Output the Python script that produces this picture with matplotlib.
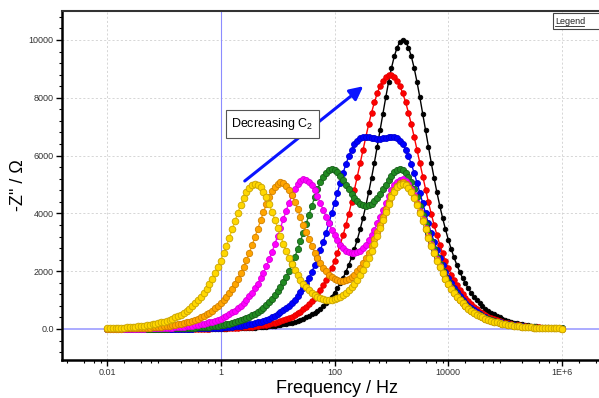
import numpy as np
import matplotlib
matplotlib.use("Agg")
import matplotlib.pyplot as plt
from matplotlib.ticker import FixedLocator, MultipleLocator, LogLocator, NullFormatter
from matplotlib.patches import Rectangle
from matplotlib.lines import Line2D

plt.rcParams['font.family'] = ['Liberation Sans', 'DejaVu Sans']
plt.rcParams['mathtext.fontset'] = 'custom'
plt.rcParams['mathtext.rm'] = 'Liberation Sans'
plt.rcParams['mathtext.it'] = 'Liberation Sans'

# frequency sweep: 0.01 Hz .. 1 MHz, 20 points per decade
freq = np.logspace(-2, 6, 161)

# -Z'' values (ohm), one list per C2 value
z_black = [0, 0, 0, 0, 0, 0, 0, 0, 0, 0,
           0, 0, 0, 0, 0, 0, 0, 0, 0, 2,
           2, 2, 2, 2, 2, 2, 2, 4, 4, 4,
           4, 4, 6, 6, 6, 8, 8, 8, 10, 12,
           12, 14, 16, 18, 20, 22, 26, 28, 32, 36,
           40, 44, 50, 56, 64, 70, 80, 90, 100, 112,
           126, 142, 158, 178, 200, 224, 252, 282, 316, 356,
           398, 448, 502, 564, 632, 708, 794, 892, 1000, 1122,
           1256, 1408, 1578, 1768, 1980, 2216, 2478, 2770, 3092, 3448,
           3838, 4264, 4726, 5222, 5750, 6302, 6872, 7448, 8012, 8544,
           9026, 9432, 9740, 9934, 10000, 9934, 9740, 9432, 9026, 8544,
           8012, 7448, 6872, 6302, 5750, 5222, 4726, 4264, 3838, 3448,
           3092, 2770, 2478, 2216, 1980, 1768, 1578, 1408, 1256, 1122,
           1000, 892, 794, 708, 632, 564, 502, 448, 398, 356,
           316, 282, 252, 224, 200, 178, 158, 142, 126, 112,
           100, 90, 80, 70, 64, 56, 50, 44, 40, 36,
           32]

z_red = [0, 0, 0, 0, 0, 0, 0, 0, 0, 0,
         1, 1, 1, 1, 1, 1, 1, 1, 2, 3,
         3, 3, 3, 4, 4, 4, 5, 6, 6, 7,
         8, 8, 10, 11, 12, 14, 15, 17, 19, 22,
         24, 27, 30, 34, 38, 43, 48, 54, 61, 68,
         76, 85, 96, 107, 121, 135, 152, 171, 191, 214,
         241, 270, 303, 340, 382, 428, 480, 538, 604, 678,
         760, 852, 955, 1071, 1200, 1344, 1505, 1685, 1885, 2107,
         2352, 2623, 2921, 3247, 3601, 3983, 4390, 4821, 5270, 5730,
         6191, 6645, 7079, 7481, 7842, 8151, 8403, 8594, 8722, 8785,
         8785, 8722, 8594, 8403, 8151, 7842, 7481, 7079, 6645, 6191,
         5730, 5270, 4821, 4390, 3983, 3601, 3247, 2921, 2623, 2352,
         2107, 1885, 1685, 1505, 1344, 1200, 1071, 955, 852, 760,
         678, 604, 538, 480, 428, 382, 340, 303, 270, 241,
         214, 191, 171, 152, 135, 121, 107, 96, 85, 76,
         68, 61, 54, 48, 43, 38, 34, 30, 27, 24,
         22]

z_blue = [0, 0, 1, 1, 1, 1, 1, 1, 1, 1,
          2, 2, 2, 2, 2, 3, 3, 3, 4, 5,
          5, 6, 7, 7, 8, 9, 10, 12, 13, 15,
          16, 18, 21, 23, 25, 29, 32, 36, 40, 46,
          51, 57, 64, 72, 81, 90, 102, 114, 128, 144,
          161, 180, 203, 227, 256, 286, 322, 361, 404, 453,
          509, 571, 640, 717, 804, 901, 1010, 1131, 1266, 1417,
          1584, 1770, 1975, 2201, 2448, 2717, 3008, 3321, 3651, 3997,
          4352, 4710, 5061, 5397, 5706, 5978, 6206, 6385, 6513, 6594,
          6635, 6645, 6635, 6617, 6599, 6587, 6587, 6599, 6617, 6635,
          6645, 6635, 6594, 6513, 6385, 6206, 5978, 5706, 5397, 5061,
          4710, 4352, 3997, 3651, 3321, 3008, 2717, 2448, 2201, 1975,
          1770, 1584, 1417, 1266, 1131, 1010, 901, 804, 717, 640,
          571, 509, 453, 404, 361, 322, 286, 256, 227, 203,
          180, 161, 144, 128, 114, 102, 90, 81, 72, 64,
          57, 51, 46, 40, 36, 32, 29, 25, 23, 21,
          18]

z_green = [1, 2, 2, 2, 2, 2, 3, 3, 3, 4,
           4, 4, 5, 6, 6, 7, 8, 9, 10, 12,
           14, 15, 17, 19, 21, 23, 26, 30, 34, 37,
           42, 47, 53, 59, 66, 75, 83, 93, 105, 118,
           132, 148, 166, 187, 209, 235, 264, 296, 332, 372,
           417, 468, 525, 589, 660, 739, 829, 929, 1040, 1164,
           1302, 1456, 1625, 1813, 2019, 2244, 2489, 2752, 3033, 3329,
           3635, 3948, 4257, 4554, 4829, 5070, 5267, 5413, 5500, 5528,
           5498, 5420, 5302, 5156, 4996, 4832, 4675, 4536, 4421, 4335,
           4282, 4264, 4282, 4335, 4421, 4536, 4675, 4832, 4996, 5156,
           5302, 5420, 5498, 5528, 5500, 5413, 5267, 5070, 4829, 4554,
           4257, 3948, 3635, 3329, 3033, 2752, 2489, 2244, 2019, 1813,
           1625, 1456, 1302, 1164, 1040, 929, 829, 739, 660, 589,
           525, 468, 417, 372, 332, 296, 264, 235, 209, 187,
           166, 148, 132, 118, 105, 93, 83, 75, 66, 59,
           53, 47, 42, 37, 34, 30, 26, 23, 21, 19,
           17]

z_magenta = [4, 4, 4, 5, 6, 6, 7, 8, 9, 10,
             11, 13, 14, 16, 18, 20, 22, 25, 28, 33,
             36, 41, 46, 51, 57, 64, 72, 81, 91, 102,
             114, 128, 144, 161, 181, 203, 228, 255, 287, 322,
             360, 404, 454, 509, 571, 639, 717, 803, 900, 1008,
             1128, 1261, 1410, 1574, 1756, 1954, 2172, 2408, 2661, 2931,
             3214, 3507, 3803, 4095, 4372, 4625, 4842, 5011, 5125, 5178,
             5166, 5094, 4967, 4795, 4588, 4360, 4121, 3882, 3651, 3436,
             3239, 3067, 2921, 2803, 2714, 2654, 2624, 2624, 2654, 2714,
             2803, 2921, 3067, 3239, 3436, 3651, 3882, 4121, 4360, 4588,
             4795, 4967, 5094, 5166, 5178, 5125, 5011, 4842, 4625, 4372,
             4095, 3803, 3507, 3214, 2931, 2661, 2408, 2172, 1954, 1756,
             1574, 1410, 1261, 1128, 1008, 900, 803, 717, 639, 571,
             509, 454, 404, 360, 322, 287, 255, 228, 203, 181,
             161, 144, 128, 114, 102, 91, 81, 72, 64, 57,
             51, 46, 41, 36, 33, 28, 25, 22, 20, 18,
             16]

z_orange = [9, 10, 11, 13, 14, 16, 18, 20, 22, 25,
            28, 32, 35, 40, 45, 50, 56, 63, 71, 80,
            90, 101, 113, 127, 142, 159, 179, 201, 226, 253,
            284, 318, 357, 400, 449, 504, 565, 632, 709, 795,
            890, 997, 1116, 1248, 1395, 1557, 1737, 1933, 2148, 2381,
            2631, 2897, 3176, 3464, 3756, 4041, 4312, 4558, 4766, 4926,
            5030, 5071, 5046, 4959, 4816, 4625, 4398, 4147, 3882, 3614,
            3350, 3099, 2862, 2645, 2448, 2273, 2121, 1992, 1885, 1800,
            1736, 1694, 1673, 1673, 1694, 1736, 1800, 1885, 1992, 2121,
            2273, 2448, 2645, 2862, 3099, 3350, 3614, 3882, 4147, 4398,
            4625, 4816, 4959, 5046, 5071, 5030, 4926, 4766, 4558, 4312,
            4041, 3756, 3464, 3176, 2897, 2631, 2381, 2148, 1933, 1737,
            1557, 1395, 1248, 1116, 997, 890, 795, 709, 632, 565,
            504, 449, 400, 357, 318, 284, 253, 226, 201, 179,
            159, 142, 127, 113, 101, 90, 80, 71, 63, 56,
            50, 45, 40, 35, 32, 28, 25, 22, 20, 18,
            16]

z_gold = [25, 28, 32, 35, 40, 45, 50, 56, 63, 71,
          79, 89, 100, 112, 126, 141, 158, 178, 199, 225,
          252, 283, 317, 355, 398, 447, 501, 563, 630, 706,
          791, 886, 993, 1111, 1242, 1389, 1550, 1728, 1924, 2138,
          2369, 2618, 2883, 3160, 3446, 3735, 4019, 4286, 4529, 4734,
          4890, 4989, 5025, 4995, 4902, 4751, 4553, 4317, 4056, 3780,
          3499, 3222, 2954, 2700, 2463, 2244, 2045, 1865, 1704, 1563,
          1438, 1332, 1241, 1166, 1105, 1058, 1025, 1007, 1000, 1007,
          1025, 1058, 1105, 1166, 1241, 1332, 1438, 1563, 1704, 1865,
          2045, 2244, 2463, 2700, 2954, 3222, 3499, 3780, 4056, 4317,
          4553, 4751, 4902, 4995, 5025, 4989, 4890, 4734, 4529, 4286,
          4019, 3735, 3446, 3160, 2883, 2618, 2369, 2138, 1924, 1728,
          1550, 1389, 1242, 1111, 993, 886, 791, 706, 630, 563,
          501, 447, 398, 355, 317, 283, 252, 225, 199, 178,
          158, 141, 126, 112, 100, 89, 79, 71, 63, 56,
          50, 45, 40, 35, 32, 28, 25, 22, 20, 18,
          16]

series = [
    (z_black, '#000000', '#000000', 3.3),
    (z_red, '#ff0000', '#e00000', 4.0),
    (z_blue, '#0000ff', '#0000d0', 4.3),
    (z_green, '#228b22', '#17601a', 4.5),
    (z_magenta, '#ff00ff', '#d800d8', 4.3),
    (z_orange, '#ffa500', '#d08000', 4.6),
    (z_gold, '#ffd700', '#c8a200', 4.8),
]

xticks = [0.01, 1, 100, 10000, 1e6]
xticklabels = ['0.01', '1', '100', '10000', '1E+6']
yticks = [0, 2000, 4000, 6000, 8000, 10000]
yticklabels = ['0.0', '2000', '4000', '6000', '8000', '10000']

fig = plt.figure(figsize=(5.99, 3.98), dpi=100)
ax = fig.add_axes([62 / 599, 38 / 398, 549 / 599, 349 / 398])

ax.set_xscale('log')
ax.set_xlim(10 ** -2.791, 10 ** 6.86)
ax.set_ylim(-1073, 11003)

# grid
for y in yticks[1:]:
    ax.axhline(y, color='#d0d0d0', lw=0.6, ls=(0, (2.5, 2.5)), zorder=0)
for x in [0.01, 100, 10000, 1e6]:
    ax.axvline(x, color='#d0d0d0', lw=0.6, ls=(0, (2.5, 2.5)), zorder=0)
ax.axvline(1, color='#8c8cff', lw=0.8, zorder=0)
ax.axhline(0, color='#ababff', lw=1.4, zorder=0)

for vals, col, edge, ms in series:
    ax.plot(freq, vals, '-o', color=col, mfc=col, mec=edge, mew=0.6,
            ms=ms, lw=1.0, zorder=2)

ax.xaxis.set_major_locator(FixedLocator(xticks))
ax.set_xticklabels(xticklabels)
ax.xaxis.set_minor_locator(LogLocator(base=10, subs=(2, 4, 6, 8), numticks=30))
ax.xaxis.set_minor_formatter(NullFormatter())
ax.set_yticks(yticks)
ax.set_yticklabels(yticklabels)
ax.yaxis.set_minor_locator(MultipleLocator(400))

ax.tick_params(which='major', direction='out', length=4, width=1,
               labelsize=6.5, labelcolor='#333333', pad=2)
ax.tick_params(which='minor', direction='out', length=2.5, width=0.8)

for side in ['left', 'bottom']:
    ax.spines[side].set_linewidth(1.8)
ax.spines['top'].set_linewidth(1.5)
ax.spines['top'].set_color('#333333')
ax.spines['right'].set_visible(False)

ax.set_xlabel('Frequency / Hz', fontsize=13, labelpad=2)
ax.set_ylabel('-Z" / \u03a9', fontsize=13, labelpad=1)

# annotation
ax.annotate('', xy=(320, 8400), xytext=(2.64, 5121),
            arrowprops=dict(arrowstyle='-|>', color='#0a14ff', lw=2.2,
                            mutation_scale=20, shrinkA=0, shrinkB=0),
            zorder=3)
ax.text(8.05, 7093, 'Decreasing C$_2$', ha='center', va='center', fontsize=9,
        zorder=4,
        bbox=dict(boxstyle='square,pad=0.45', fc='white', ec='#555555', lw=0.8))

# "Legend" stub at top right
fig.add_artist(Rectangle((553 / 599, 1 - 29 / 398), 50 / 599, 16 / 398,
                         transform=fig.transFigure, fc='white', ec='#444444',
                         lw=0.8))
fig.text(555 / 599, 1 - 21 / 398, 'Legend', fontsize=6.5, color='#222222',
         va='center', ha='left')
fig.add_artist(Line2D([555 / 599, 584 / 599], [1 - 26 / 398, 1 - 26 / 398],
                      transform=fig.transFigure, color='#222222', lw=0.6))

fig.savefig('out.png', dpi=100)
